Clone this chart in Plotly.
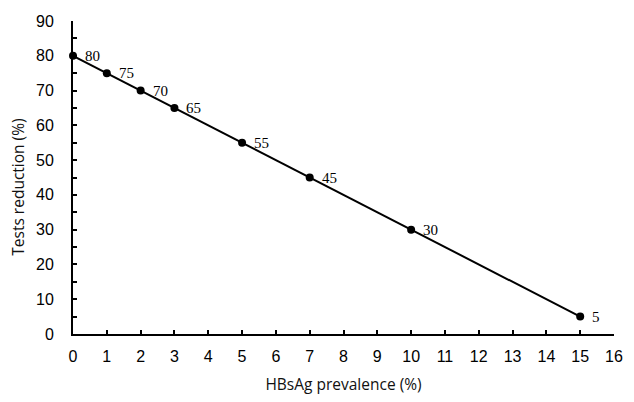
import plotly.graph_objects as go

prevalence = [0, 1, 2, 3, 5, 7, 10, 15]
reduction = [80, 75, 70, 65, 55, 45, 30, 5]
x_ticks = list(range(0, 17))
y_ticks = list(range(0, 91, 10))

fig = go.Figure()
fig.add_trace(go.Scatter(
    x=prevalence, y=reduction, mode="lines+markers",
    line=dict(color="black", width=2),
    marker=dict(color="black", size=8),
    showlegend=False, cliponaxis=False,
))

for xv, yv in zip(prevalence, reduction):
    fig.add_annotation(
        x=xv, y=yv, text=str(yv), showarrow=False,
        xanchor="left", yanchor="middle", xshift=10,
        font=dict(family="Liberation Serif, Times New Roman, serif", size=15, color="black"),
    )

axis_font = dict(family="Liberation Sans, Arial, sans-serif", size=16, color="black")
title_font = dict(family="Open Sans, sans-serif", size=15.5, color="#111")

fig.add_annotation(
    text="Tests reduction (%)", textangle=-90, showarrow=False,
    xref="paper", yref="paper", x=-0.102, y=0.47,
    xanchor="center", yanchor="middle", font=title_font,
)

fig.update_layout(
    width=634, height=402,
    margin=dict(l=73, r=11, t=21, b=65),
    paper_bgcolor="white", plot_bgcolor="white",
    xaxis=dict(
        range=[0, 16], tickvals=x_ticks, ticks="inside", ticklen=4, tickwidth=1.5,
        tickcolor="black", showline=True, linecolor="black", linewidth=2,
        showgrid=False, zeroline=False, tickfont=axis_font, ticklabelstandoff=7,
        title=dict(text="HBsAg prevalence (%)", font=title_font, standoff=15),
    ),
    yaxis=dict(
        range=[0, 90], tickvals=y_ticks, ticks="inside", ticklen=4, tickwidth=1.5,
        tickcolor="black", showline=True, linecolor="black", linewidth=2,
        showgrid=False, zeroline=False, tickfont=axis_font, ticklabelstandoff=14,
        minor=dict(dtick=5, ticks="inside", ticklen=4, tickcolor="black", tickwidth=1.5),
    ),
)

fig.write_html("out.html")
